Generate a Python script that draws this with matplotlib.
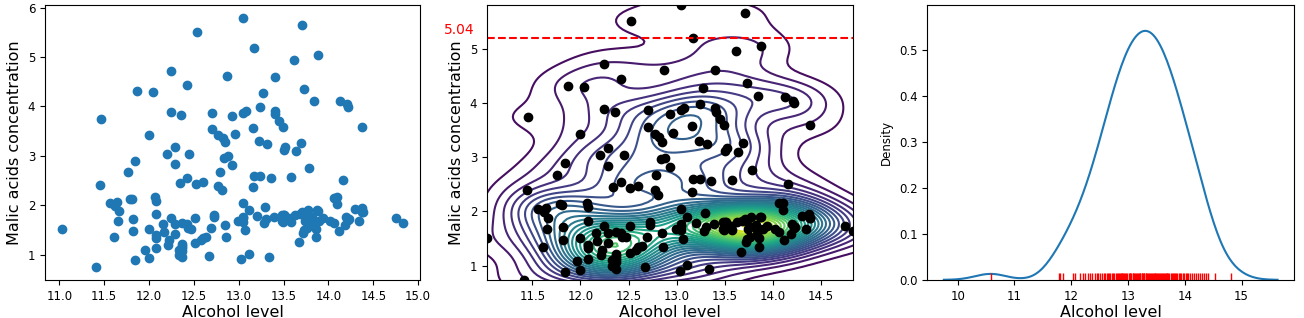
import numpy as np
import matplotlib
matplotlib.use("Agg")
from matplotlib import pyplot as plt
import matplotlib.transforms as mtransforms

# wine data: alcohol / malic acid
alcohol = [14.23, 13.2, 13.16, 14.37, 13.24, 14.2, 14.39, 14.06, 14.83, 13.86, 14.1, 14.12, 13.75, 14.75, 14.38,
           13.63, 14.3, 13.83, 14.19, 13.64, 14.06, 12.93, 13.71, 12.85, 13.5, 13.05, 13.39, 13.3, 13.87, 14.02,
           13.73, 13.58, 13.68, 13.76, 13.51, 13.48, 13.28, 13.05, 13.07, 14.22, 13.56, 13.41, 13.88, 13.24, 13.05,
           14.21, 14.38, 13.9, 14.1, 13.94, 13.05, 13.83, 13.82, 13.77, 13.74, 13.56, 14.22, 13.29, 13.72,
           12.37, 12.33, 12.64, 13.67, 12.37, 12.17, 12.37, 13.11, 13.34, 12.21, 12.29, 13.86, 13.49, 12.99, 11.96,
           11.66, 13.03, 11.84, 12.33, 12.7, 12.0, 12.72, 12.08, 13.05, 11.84, 12.67, 12.16, 11.65, 11.64, 12.08,
           12.08, 12.0, 12.69, 12.29, 11.62, 12.47, 11.81, 12.29, 12.37, 12.29, 12.08, 12.6, 12.34, 11.82, 12.51,
           12.42, 12.25, 12.72, 12.22, 11.61, 11.46, 12.52, 11.76, 11.41, 12.08, 11.03, 11.82, 12.42, 12.77, 12.0,
           11.45, 11.56, 12.42, 13.05, 11.87, 12.07, 12.43, 11.79, 12.37, 12.04, 12.37,
           12.86, 12.88, 12.81, 12.7, 12.51, 12.6, 12.25, 12.53, 13.49, 12.84, 12.93, 13.36, 13.52, 13.62, 12.25,
           13.16, 13.88, 12.87, 13.32, 13.08, 13.5, 12.79, 13.11, 13.23, 12.58, 13.17, 13.84, 12.45, 14.34, 13.48,
           12.36, 13.69, 12.85, 12.96, 13.78, 13.73, 13.45, 12.82, 13.58, 13.4, 12.2, 12.77, 14.16, 13.71, 13.4,
           13.27, 13.17, 14.13]
malic = [1.71, 1.78, 2.36, 1.95, 2.59, 1.76, 1.87, 2.15, 1.64, 1.35, 2.16, 1.48, 1.73, 1.73, 1.87,
         1.81, 1.92, 1.57, 1.59, 3.1, 1.63, 3.8, 1.86, 1.6, 1.81, 2.05, 1.77, 1.72, 1.9, 1.68,
         1.5, 1.66, 1.83, 1.53, 1.8, 1.81, 1.64, 1.65, 1.5, 3.99, 1.71, 3.84, 1.89, 3.98, 1.77,
         4.04, 3.59, 1.68, 2.02, 1.73, 1.73, 1.65, 1.75, 1.9, 1.67, 1.73, 1.7, 1.97, 1.43,
         0.94, 1.1, 1.36, 1.25, 1.13, 1.45, 1.21, 1.01, 0.94, 1.19, 1.61, 1.51, 1.66, 1.67, 1.09,
         1.88, 0.9, 2.89, 0.99, 3.87, 0.92, 1.81, 1.13, 3.86, 0.89, 0.98, 1.61, 1.67, 2.06, 1.33,
         1.83, 1.51, 1.53, 2.83, 1.99, 1.52, 2.12, 1.41, 1.07, 3.17, 2.08, 1.34, 2.45, 1.72, 1.73,
         2.55, 1.73, 1.75, 1.29, 1.35, 3.74, 2.43, 2.68, 0.74, 1.39, 1.51, 1.47, 1.61, 3.43, 3.43,
         2.4, 2.05, 4.43, 5.8, 4.31, 2.16, 1.53, 2.13, 1.63, 4.3, 1.17,
         1.35, 2.99, 2.31, 3.55, 1.24, 2.46, 4.72, 5.51, 3.59, 2.96, 2.81, 2.56, 3.17, 4.95, 3.88,
         3.57, 5.04, 4.61, 3.24, 3.9, 3.12, 2.67, 1.9, 3.3, 1.29, 5.19, 4.12, 3.03, 1.68, 1.67,
         3.83, 3.26, 3.27, 3.45, 2.76, 4.36, 3.7, 3.37, 2.58, 4.6, 3.03, 2.39, 2.51, 5.65, 3.91,
         4.28, 2.59, 4.1]

# alcohol sample shown in the density panel
alcohol_rug = [10.58, 11.78, 11.80, 11.86, 12.03, 12.07, 12.16, 12.20, 12.25, 12.29,
               12.33, 12.37, 12.42, 12.45, 12.48, 12.51, 12.55, 12.58, 12.60, 12.63, 12.65, 12.67, 12.69,
               12.71, 12.73, 12.76, 12.78, 12.80, 12.82, 12.84, 12.86, 12.87, 12.89,
               12.90, 12.92, 12.93, 12.95, 12.97, 12.99, 13.01, 13.03, 13.04, 13.06, 13.08, 13.09,
               13.11, 13.12, 13.14, 13.16, 13.17, 13.19, 13.21, 13.22, 13.24, 13.25, 13.27, 13.28, 13.29,
               13.31, 13.32, 13.34, 13.36, 13.37, 13.39, 13.40, 13.42, 13.44, 13.45, 13.47, 13.48, 13.49,
               13.51, 13.53, 13.55, 13.56, 13.58, 13.60, 13.62, 13.63, 13.65, 13.67, 13.68, 13.69,
               13.71, 13.73, 13.75, 13.77, 13.79, 13.81, 13.83, 13.85, 13.87, 13.89,
               13.92, 13.94, 13.97, 13.99, 14.02, 14.04, 14.06, 14.09,
               14.13, 14.16, 14.20, 14.23, 14.27, 14.31, 14.34, 14.38, 14.41, 14.54, 14.81]

threshold_label = "5.04"
threshold_y = 5.2

plt.rcParams['xtick.labelsize'] = 8.5
plt.rcParams['ytick.labelsize'] = 8.5


def scott_bw(v):
    v = np.asarray(v)
    iqr = np.subtract(*np.percentile(v, [75, 25]))
    a = min(np.std(v, ddof=1), iqr / 1.349)
    return 1.059 * a * len(v) ** (-0.2)


x = np.array(alcohol)
y = np.array(malic)

fig = plt.figure(figsize=(13.04, 3.18), dpi=100)
ax1 = fig.add_axes([0.0345, 0.12, 0.2875, 0.864])
ax2 = fig.add_axes([0.3735, 0.12, 0.2805, 0.864])
ax3 = fig.add_axes([0.711, 0.12, 0.2815, 0.864])

# scatter
ax1.scatter(x, y)
ax1.set_xlabel("Alcohol level", fontsize=11.5, labelpad=2)
ax1.set_ylabel("Malic acids concentration", fontsize=11.5)

# bivariate kde + scatter
bx, by = 0.33, 0.27
gx = np.linspace(x.min() - 3 * bx, x.max() + 3 * bx, 150)
gy = np.linspace(y.min() - 3 * by, y.max() + 3 * by, 150)
xx, yy = np.meshgrid(gx, gy)
zz = np.zeros_like(xx)
for xi, yi in zip(x, y):
    zz += np.exp(-0.5 * ((xx - xi) / bx) ** 2 - 0.5 * ((yy - yi) / by) ** 2)
zz /= len(x) * 2 * np.pi * bx * by
ax2.contour(xx, yy, zz, 28, cmap="viridis", zorder=1)
ax2.scatter(x, y, color="black", zorder=2)
ax2.set_xlim(x.min(), x.max())
ax2.set_ylim(y.min(), y.max())
ax2.axhline(threshold_y, color="red", linestyle="--")
trans = mtransforms.blended_transform_factory(ax2.transAxes, ax2.transData)
ax2.text(-0.035, threshold_y + 0.02, threshold_label, color="red", fontsize=10,
         ha="right", va="bottom", transform=trans)
ax2.set_xlabel("Alcohol level", fontsize=11.5, labelpad=2)
ax2.set_ylabel("Malic acids concentration", fontsize=11.5)

# 1d kde + rug
r = np.array(alcohol_rug)
bw = scott_bw(r)
grid = np.linspace(r.min() - 3 * bw, r.max() + 3 * bw, 200)
dens = np.exp(-0.5 * ((grid[:, None] - r[None, :]) / bw) ** 2).sum(axis=1)
dens /= len(r) * bw * np.sqrt(2 * np.pi)
ax3.plot(grid, dens)
ax3.vlines(r, 0, 0.025, transform=ax3.get_xaxis_transform(), color="red", linewidth=1)
ax3.set_ylim(0, 0.598)
ax3.set_xlabel("Alcohol level", fontsize=11.5, labelpad=2)
ax3.set_ylabel("Density", fontsize=8.5)

fig.savefig("out.png", dpi=100)
